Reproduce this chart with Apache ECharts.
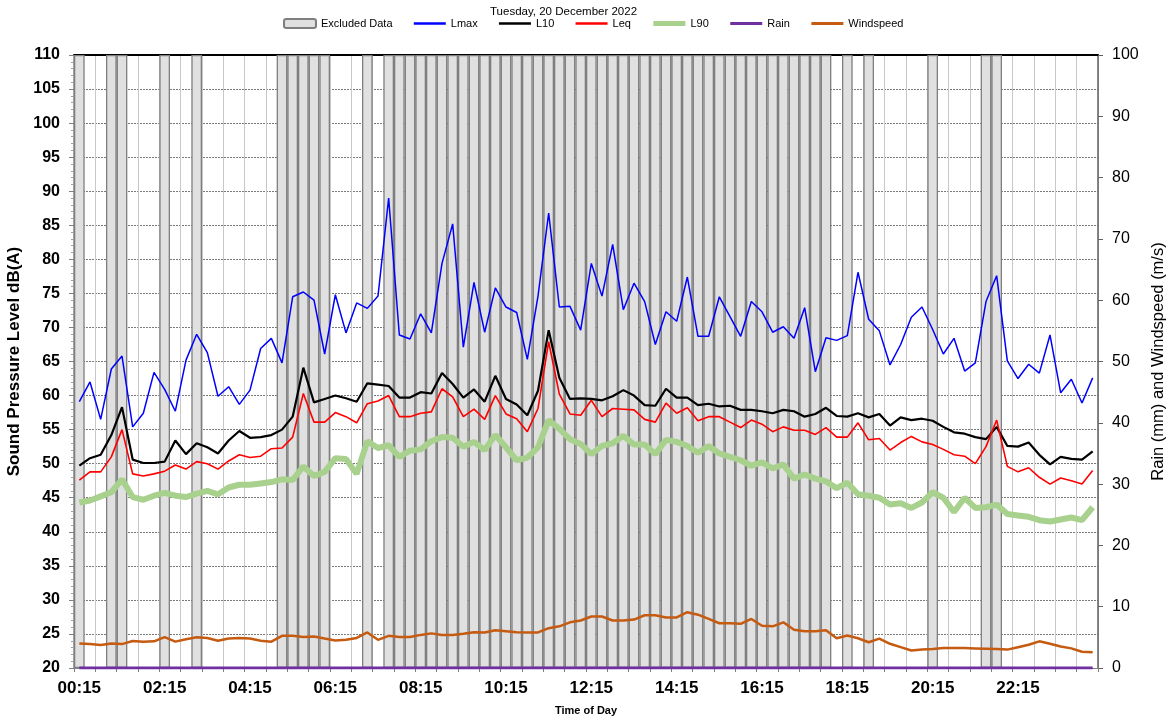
<!DOCTYPE html>
<html><head><meta charset="utf-8">
<script src="https://cdn.jsdelivr.net/npm/echarts@6/dist/echarts.min.js"></script>
<style>html,body{margin:0;padding:0;background:#fff}#c{width:1168px;height:722px}</style>
</head><body><div id="c"></div>
<script>
const titleText = 'Tuesday, 20 December 2022';
// 15-minute periods ending 00:15 ... 24:00
const categories = [];
for (let i = 1; i <= 96; i++) {
  const m = i * 15, h = Math.floor(m / 60) % 24, mm = m % 60;
  categories.push(String(h).padStart(2, '0') + ':' + String(mm).padStart(2, '0'));
}
const leftTicks = [20, 110, 5];
const rightTicks = [0, 100, 10];
// excluded periods, as [first, last] category indexes
const excludedRanges = [[0,0],[3,4],[8,8],[11,11],[19,23],[27,27],[29,70],[72,72],[74,74],[80,80],[85,86]];

const lmax = [59.1,62.0,56.5,63.9,65.8,55.4,57.4,63.4,60.9,57.7,65.2,69.0,66.3,59.9,61.3,58.7,60.8,66.9,68.4,64.8,
  74.5,75.2,74.0,66.1,74.8,69.2,73.6,72.8,74.6,89.0,68.9,68.3,72.0,69.2,79.4,85.2,67.1,76.6,69.3,75.8,
  73.0,72.2,65.3,74.6,86.8,73.0,73.1,69.6,79.4,74.6,82.2,72.6,76.5,73.8,67.5,72.3,70.9,77.4,68.7,68.7,
  74.5,71.6,68.7,73.8,72.3,69.3,70.1,68.4,72.9,63.5,68.5,68.1,68.8,78.1,71.2,69.5,64.5,67.5,71.5,73.0,
  69.7,66.1,68.4,63.6,64.8,73.8,77.6,65.1,62.5,64.6,63.3,68.9,60.4,62.4,58.9,62.6];
const l10 = [49.7,50.8,51.3,54.2,58.3,50.6,50.1,50.1,50.3,53.4,51.4,53.0,52.4,51.5,53.4,54.8,53.8,53.9,54.2,55.0,
  56.9,64.1,59.0,59.5,60.0,59.6,59.1,61.8,61.6,61.4,59.7,59.7,60.5,60.3,63.3,61.7,59.7,60.9,59.1,62.9,
  59.5,58.7,57.1,60.7,69.6,62.6,59.5,59.6,59.5,59.3,59.9,60.8,60.0,58.6,58.5,61.0,59.7,59.7,58.6,58.8,
  58.4,58.5,57.9,57.9,57.7,57.4,57.9,57.7,56.9,57.3,58.2,57.0,56.9,57.4,56.8,57.3,55.6,56.8,56.4,56.6,
  56.3,55.4,54.6,54.4,53.9,53.6,55.4,52.6,52.5,53.1,51.3,49.9,51.0,50.7,50.6,51.8];
const leq = [47.6,48.8,48.8,51.0,55.0,48.5,48.2,48.5,48.9,49.8,49.2,50.3,50.0,49.2,50.4,51.3,50.9,51.1,52.2,52.3,
  53.9,60.3,56.1,56.1,57.5,56.9,56.0,58.8,59.2,60.0,56.9,56.9,57.4,57.6,61.0,59.8,56.9,58.0,56.5,60.0,
  57.3,56.6,54.7,58.1,67.9,60.2,57.3,57.1,59.3,56.9,58.1,58.0,57.9,56.5,56.1,58.9,57.4,58.2,56.3,56.9,
  56.9,56.1,55.3,56.4,55.8,54.7,55.4,54.9,54.9,54.3,55.3,53.9,53.9,56.0,53.5,53.7,52.0,53.1,54.0,53.2,
  52.8,52.1,51.3,51.1,50.0,52.5,56.4,49.6,48.8,49.4,48.0,47.0,47.9,47.5,47.0,49.0];
const l90 = [44.3,44.6,45.2,45.8,47.7,45.1,44.7,45.3,45.7,45.3,45.1,45.6,46.0,45.5,46.5,46.9,46.9,47.1,47.3,47.7,
  47.6,49.6,48.2,48.8,50.8,50.7,48.5,53.3,52.3,52.7,51.0,51.9,52.1,53.3,53.9,53.8,52.5,53.2,52.0,54.2,
  52.4,50.5,50.9,52.4,56.4,55.1,53.6,52.9,51.4,52.6,53.0,54.1,52.8,52.8,51.4,53.5,53.2,52.6,51.6,52.6,
  51.5,51.0,50.5,49.7,50.2,49.3,49.9,47.8,48.4,47.8,47.4,46.4,47.2,45.5,45.3,45.0,44.0,44.2,43.5,44.3,
  45.8,45.0,42.9,45.0,43.5,43.6,44.0,42.6,42.4,42.2,41.7,41.5,41.8,42.1,41.7,43.6];
const rain = [0,0,0,0,0,0,0,0,0,0,0,0,0,0,0,0,0,0,0,0,0,0,0,0,0,0,0,0,0,0,0,0,0,0,0,0,0,0,0,0,0,0,0,0,0,0,0,0,
  0,0,0,0,0,0,0,0,0,0,0,0,0,0,0,0,0,0,0,0,0,0,0,0,0,0,0,0,0,0,0,0,0,0,0,0,0,0,0,0,0,0,0,0,0,0,0,0];
const wind = [4.0,3.9,3.75,4.0,3.9,4.4,4.3,4.35,5.05,4.3,4.7,5.0,4.9,4.45,4.8,4.9,4.8,4.45,4.3,5.25,
  5.25,5.05,5.15,4.8,4.5,4.6,4.9,5.8,4.6,5.25,5.05,5.05,5.4,5.65,5.4,5.4,5.6,5.85,5.8,6.15,
  6.0,5.85,5.8,5.8,6.5,6.8,7.45,7.75,8.4,8.4,7.75,7.75,7.9,8.6,8.6,8.25,8.25,9.1,8.7,8.0,
  7.3,7.3,7.2,8.0,6.9,6.8,7.45,6.25,6.0,6.0,6.15,4.85,5.3,4.85,4.2,4.8,3.95,3.4,2.85,3.0,
  3.1,3.25,3.25,3.25,3.2,3.15,3.1,3.0,3.4,3.8,4.35,3.95,3.5,3.2,2.65,2.55];

const isExcluded = i => excludedRanges.some(r => i >= r[0] && i <= r[1]);
const excludedBars = categories.map((c, i) => isExcluded(i) ? rightTicks[1] : '-');

const FONT = '"Liberation Sans", Arial, sans-serif';
const chart = echarts.init(document.getElementById('c'), null, {renderer: 'canvas'});
const lineS = (name, data, color, width, yIdx, z) => ({
  name, type: 'line', data, yAxisIndex: yIdx, symbol: 'none', z,
  lineStyle: {color, width}, itemStyle: {color}, animation: false
});
const noSym = {color: 'transparent', borderColor: 'transparent', borderWidth: 0};
const legItem = (name, w) => ({name, itemStyle: noSym, lineStyle: {width: w}});
chart.setOption({
  animation: false,
  textStyle: {fontFamily: FONT},
  title: {text: titleText, left: 490, top: 6, padding: 0,
    textStyle: {fontSize: 11.5, fontWeight: 'normal', color: '#000', fontFamily: FONT}},
  legend: {left: 283, top: 18, padding: 0, itemWidth: 32, itemHeight: 9, itemGap: 20,
    textStyle: {fontSize: 11, color: '#000', fontFamily: FONT},
    data: [{name: 'Excluded Data'},
      legItem('Lmax', 2.5), legItem('L10', 2.5), legItem('Leq', 2.5),
      legItem('L90', 5), legItem('Rain', 3), legItem('Windspeed', 3)]},
  grid: {left: 74, right: 70, top: 55, bottom: 54, containLabel: false, outerBoundsMode: 'none'},
  xAxis: [{
    type: 'category', data: categories, boundaryGap: true,
    name: 'Time of Day', nameLocation: 'middle', nameGap: 37,
    nameTextStyle: {fontSize: 11, fontWeight: 'bold', color: '#000'},
    axisLine: {show: true, lineStyle: {color: '#808080', width: 1}},
    axisTick: {show: true, interval: 1, length: 4, lineStyle: {color: '#808080'}},
    axisLabel: {interval: 7, fontSize: 17, fontWeight: 'bold', color: '#000', margin: 12},
    splitLine: {show: true, interval: 1, lineStyle: {color: '#c8c8c8', width: 1}}
  }, {
    type: 'category', data: categories, position: 'top', boundaryGap: true,
    axisLine: {show: true, lineStyle: {color: '#000', width: 2}},
    axisTick: {show: false}, axisLabel: {show: false}, splitLine: {show: false}
  }],
  yAxis: [{
    type: 'value', min: leftTicks[0], max: leftTicks[1], interval: leftTicks[2],
    name: 'Sound Pressure Level dB(A)', nameLocation: 'middle', nameGap: 48,
    nameTextStyle: {fontSize: 17, fontWeight: 'bold', color: '#000'},
    axisLine: {show: true, lineStyle: {color: '#808080', width: 1.5}},
    axisTick: {show: true, length: 5, lineStyle: {color: '#808080'}},
    minorTick: {show: true, splitNumber: 5, length: 3, lineStyle: {color: '#a0a0a0'}},
    axisLabel: {fontSize: 16, fontWeight: 'bold', color: '#000', margin: 14},
    splitLine: {show: true, lineStyle: {color: '#7a7a7a', width: 1, type: [2, 1]}}
  }, {
    type: 'value', min: rightTicks[0], max: rightTicks[1], interval: rightTicks[2], position: 'right',
    name: 'Rain (mm) and Windspeed (m/s)', nameLocation: 'middle', nameGap: 50, nameRotate: 90,
    nameTextStyle: {fontSize: 16.5, color: '#000'},
    axisLine: {show: true, lineStyle: {color: '#606060', width: 1.5}},
    axisTick: {show: true, length: 5, lineStyle: {color: '#606060'}},
    axisLabel: {fontSize: 16, color: '#000', margin: 14},
    splitLine: {show: false}
  }],
  series: [
    {name: 'Excluded Data', type: 'bar', data: excludedBars, yAxisIndex: 1, barWidth: '100%', barGap: '0%', z: 1,
     itemStyle: {color: '#e0e0e0', borderColor: '#7f7f7f', borderWidth: 1.3}, animation: false},
    lineS('Lmax', lmax, '#0000ff', 1.5, 0, 5),
    lineS('L10', l10, '#000000', 2.2, 0, 5),
    lineS('Leq', leq, '#ff0000', 1.6, 0, 5),
    lineS('L90', l90, '#a9d18e', 6, 0, 4),
    lineS('Rain', rain, '#7030a0', 3, 1, 6),
    lineS('Windspeed', wind, '#c55a11', 2.5, 1, 5)
  ]
});
</script></body></html>
